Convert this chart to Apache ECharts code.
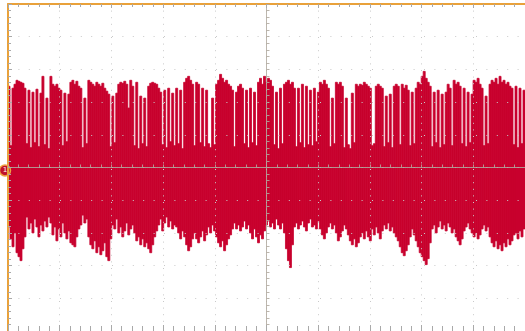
<!DOCTYPE html>
<html>
<head>
<meta charset="utf-8">
<script src="https://cdn.jsdelivr.net/npm/echarts@6/dist/echarts.min.js"></script>
<style>
html,body{margin:0;padding:0;background:#fff;}
#c{width:525px;height:331px;}
</style>
</head>
<body>
<div id="c"></div>
<script>
// time axis: 10 divisions, centred on 0
const timeMin = -5, timeMax = 5, timeDiv = 1;
// vertical axis: 10 divisions, 33 units per division
const voltMin = -165, voltMax = 165, voltDiv = 33;
// per-sample-slot envelope of the captured trace (max / min), 259 slots across the screen
const traceHigh = [
 82,22,80,84,88,87,86,85,80,24,
 78,20,76,25,79,21,75,92,23,70,
 19,92,84,82,84,80,78,22,75,26,
 74,86,88,84,87,82,80,20,70,24,
 88,86,84,82,86,84,82,85,80,77,
 74,21,72,25,75,84,86,85,87,84,
 60,88,82,22,86,19,72,24,70,21,
 82,85,86,85,84,80,76,23,78,20,
 80,26,75,22,80,24,78,19,86,90,
 92,88,84,22,86,84,25,80,21,78,
 24,20,70,23,84,88,94,90,86,88,
 84,82,78,21,76,82,84,80,24,78,
 20,80,25,76,22,86,90,84,92,86,
 90,88,82,23,76,19,80,24,84,86,
 88,84,86,80,21,80,25,84,20,82,
 23,78,22,80,26,76,86,84,88,84,
 80,21,70,24,86,84,86,82,20,70,
 23,19,75,25,84,82,84,83,86,84,
 82,80,22,24,82,84,82,80,21,72,
 25,74,20,82,84,82,23,84,80,83,
 78,22,76,24,80,86,84,92,97,90,
 86,82,21,76,25,78,20,74,23,76,
 84,80,22,88,84,86,82,24,80,21,
 76,25,74,88,86,90,84,80,22,72,
 24,84,88,86,90,84,92,86,88,84,
 86,82,80,23,82,20,80,24,78
];
const traceLow = [
 -60,-72,-80,-66,-86,-90,-94,-82,-70,-50,
 -62,-56,-66,-52,-60,-70,-58,-64,-54,-60,
 -50,-56,-68,-60,-74,-62,-70,-56,-66,-72,
 -64,-76,-78,-80,-70,-62,-58,-48,-56,-52,
 -70,-78,-82,-74,-86,-80,-88,-84,-76,-90,
 -94,-72,-58,-62,-52,-66,-60,-70,-64,-56,
 -68,-62,-58,-66,-74,-70,-78,-72,-80,-76,
 -82,-86,-78,-70,-64,-58,-52,-64,-56,-50,
 -60,-54,-62,-58,-60,-66,-72,-64,-70,-78,
 -84,-80,-72,-66,-72,-76,-70,-64,-74,-68,
 -60,-66,-58,-64,-70,-76,-80,-74,-84,-78,
 -72,-68,-62,-56,-62,-58,-64,-60,-54,-62,
 -58,-66,-72,-62,-70,-76,-68,-72,-64,-58,
 -54,-60,-56,-62,-52,-58,-62,-56,-66,-82,
 -94,-101,-78,-60,-56,-62,-58,-54,-60,-64,
 -56,-52,-60,-58,-62,-54,-62,-68,-72,-66,
 -60,-56,-62,-58,-66,-74,-70,-64,-58,-62,
 -68,-74,-78,-72,-80,-76,-70,-66,-72,-64,
 -70,-74,-62,-68,-60,-66,-72,-64,-58,-62,
 -56,-64,-60,-66,-70,-74,-80,-86,-89,-84,
 -78,-70,-62,-68,-74,-80,-86,-90,-94,-98,
 -92,-76,-62,-58,-66,-60,-54,-62,-58,-64,
 -56,-60,-66,-62,-70,-74,-78,-72,-64,-60,
 -56,-62,-66,-70,-66,-72,-68,-62,-58,-64,
 -60,-70,-76,-80,-74,-82,-78,-84,-76,-80,
 -72,-78,-74,-68,-66,-72,-64,-70,-62
];
const channelLabel = '1';
const channelGround = -3;

const slots = traceHigh.length;
const slotWidth = (timeMax - timeMin) / slots;
const traceData = traceHigh.map((h, i) => [timeMin + i * slotWidth, h, traceLow[i]]);

const frameColor = '#e9a13a';
const tickColor = '#a9a9a9';
const gridColor = '#c9c9c9';
const crossColor = 'rgba(178,170,160,0.85)';
const traceColor = '#c8002d';

const chart = echarts.init(document.getElementById('c'), null, {renderer: 'canvas'});
const gridBox = {left: 8, top: 4, width: 518, height: 330, containLabel: false};

chart.setOption({
  animation: false,
  backgroundColor: '#ffffff',
  grid: [Object.assign({}, gridBox), Object.assign({}, gridBox)],
  xAxis: [
    { gridIndex: 0, type: 'value', min: timeMin, max: timeMax, interval: timeDiv, position: 'top', z: 6,
      axisLine: {show: true, onZero: false, lineStyle: {color: frameColor, width: 2}},
      axisTick: {show: true, inside: true, length: 4, lineStyle: {color: tickColor}},
      minorTick: {show: true, splitNumber: 5, length: 3, lineStyle: {color: tickColor}},
      axisLabel: {show: false},
      splitLine: {show: true, lineStyle: {color: gridColor, width: 1, type: [1, 5.6]}} },
    { gridIndex: 0, type: 'value', min: timeMin, max: timeMax, interval: timeDiv, position: 'bottom', z: 6,
      axisLine: {show: false, onZero: false},
      axisTick: {show: true, inside: true, length: 6, lineStyle: {color: tickColor}},
      minorTick: {show: true, splitNumber: 5, length: 5, lineStyle: {color: tickColor}},
      axisLabel: {show: false}, splitLine: {show: false} },
    { gridIndex: 1, type: 'value', min: timeMin, max: timeMax, interval: timeDiv, position: 'bottom', z: 6,
      axisLine: {show: true, onZero: true, lineStyle: {color: crossColor, width: 1}},
      axisTick: {show: true, inside: true, length: 3, lineStyle: {color: crossColor}},
      minorTick: {show: true, splitNumber: 5, length: 3, lineStyle: {color: crossColor}},
      axisLabel: {show: false}, splitLine: {show: false} }
  ],
  yAxis: [
    { gridIndex: 0, type: 'value', min: voltMin, max: voltMax, interval: voltDiv, position: 'left', z: 6,
      axisLine: {show: true, onZero: false, lineStyle: {color: frameColor, width: 2}},
      axisTick: {show: true, inside: true, length: 4, lineStyle: {color: tickColor}},
      minorTick: {show: true, splitNumber: 5, length: 3, lineStyle: {color: tickColor}},
      axisLabel: {show: false},
      splitLine: {show: true, lineStyle: {color: gridColor, width: 1, type: [1, 9.4]}} },
    { gridIndex: 1, type: 'value', min: voltMin, max: voltMax, interval: voltDiv, position: 'left', z: 6,
      axisLine: {show: true, onZero: true, lineStyle: {color: crossColor, width: 1}},
      axisTick: {show: true, inside: true, length: 3, lineStyle: {color: crossColor}},
      minorTick: {show: true, splitNumber: 5, length: 3, lineStyle: {color: crossColor}},
      axisLabel: {show: false}, splitLine: {show: false} }
  ],
  series: [
    { type: 'custom', xAxisIndex: 0, yAxisIndex: 0, data: traceData, clip: true, z: 2, silent: true,
      encode: {x: 0, y: [1, 2]},
      renderItem: function (params, api) {
        const t = api.value(0), h = api.value(1), l = api.value(2);
        const p1 = api.coord([t, h]);
        const p2 = api.coord([t + slotWidth, l]);
        return {type: 'rect',
          shape: {x: p1[0], y: p1[1], width: p2[0] - p1[0], height: p2[1] - p1[1]},
          style: {fill: traceColor, stroke: traceColor, lineWidth: 0.8}};
      },
      markPoint: {
        symbol: 'circle', symbolSize: 11, symbolOffset: [-3, 0], silent: true,
        itemStyle: {color: '#c0102c', borderColor: '#f0a040', borderWidth: 1.5},
        label: {show: true, formatter: channelLabel, color: '#fff', fontSize: 7, fontFamily: 'DejaVu Sans'},
        data: [{coord: [timeMin, channelGround]}]
      }
    }
  ]
});
</script>
</body>
</html>
